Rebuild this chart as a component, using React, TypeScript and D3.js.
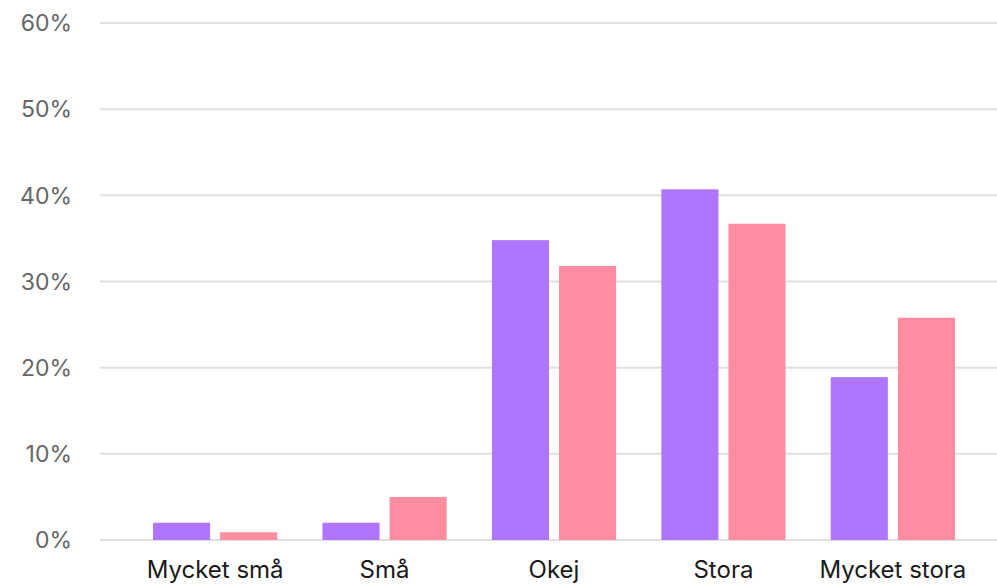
import React, { useEffect, useRef } from "react";
import * as d3 from "d3";

const categories = ["Mycket små", "Små", "Okej", "Stora", "Mycket stora"];
const seriesA = [2.0, 2.0, 34.8, 40.7, 18.9];
const seriesB = [0.9, 5.0, 31.8, 36.7, 25.8];
const yTicks = [0, 10, 20, 30, 40, 50, 60];
const seriesColors = ["#B075FF", "#FF8CA1"];

const W = 997;
const H = 585;

export default function App() {
  const ref = useRef<SVGSVGElement>(null);
  useEffect(() => {
    const svg = d3.select(ref.current);
    svg.selectAll("*").remove();
    const y = d3.scaleLinear().domain([0, 60]).range([540, 23]);
    const x = d3
      .scaleBand<string>()
      .domain(categories)
      .range([100, 1008])
      .paddingInner(0.267)
      .paddingOuter(0.313);
    const xs = d3
      .scaleBand<number>()
      .domain([0, 1])
      .range([0, x.bandwidth()])
      .paddingInner(10 / 67);

    const font = "Inter, 'Noto Sans', sans-serif";

    svg
      .append("g")
      .selectAll("line")
      .data(yTicks)
      .join("line")
      .attr("x1", 100)
      .attr("x2", W)
      .attr("y1", (d) => y(d))
      .attr("y2", (d) => y(d))
      .attr("stroke", "#E0E0E0")
      .attr("stroke-width", 2);

    svg
      .append("g")
      .selectAll("text")
      .data(yTicks)
      .join("text")
      .attr("x", 72)
      .attr("y", (d) => y(d))
      .attr("dy", "0.36em")
      .attr("text-anchor", "end")
      .attr("fill", "#666")
      .attr("font-family", font)
      .attr("font-size", 23)
      .text((d) => `${d}%`);

    const rows = categories.map((c, i) => ({ c, v: [seriesA[i], seriesB[i]] }));
    const g = svg
      .append("g")
      .selectAll("g")
      .data(rows)
      .join("g")
      .attr("transform", (d) => `translate(${x(d.c)},0)`);
    g.selectAll("rect")
      .data((d) => d.v.map((v, k) => ({ v, k })))
      .join("rect")
      .attr("x", (d) => xs(d.k)!)
      .attr("width", xs.bandwidth())
      .attr("y", (d) => y(d.v))
      .attr("height", (d) => y(0) - y(d.v))
      .attr("fill", (d) => seriesColors[d.k]);

    svg
      .append("g")
      .selectAll("text")
      .data(categories)
      .join("text")
      .attr("x", (d) => x(d)! + x.bandwidth() / 2)
      .attr("y", 578)
      .attr("text-anchor", "middle")
      .attr("fill", "#1a1a1a")
      .attr("font-family", font)
      .attr("font-size", 24)
      .text((d) => d);
  }, []);
  return (
    <svg
      ref={ref}
      width={W}
      height={H}
      style={{ position: "absolute", left: 0, top: 0, background: "#fff" }}
    />
  );
}
